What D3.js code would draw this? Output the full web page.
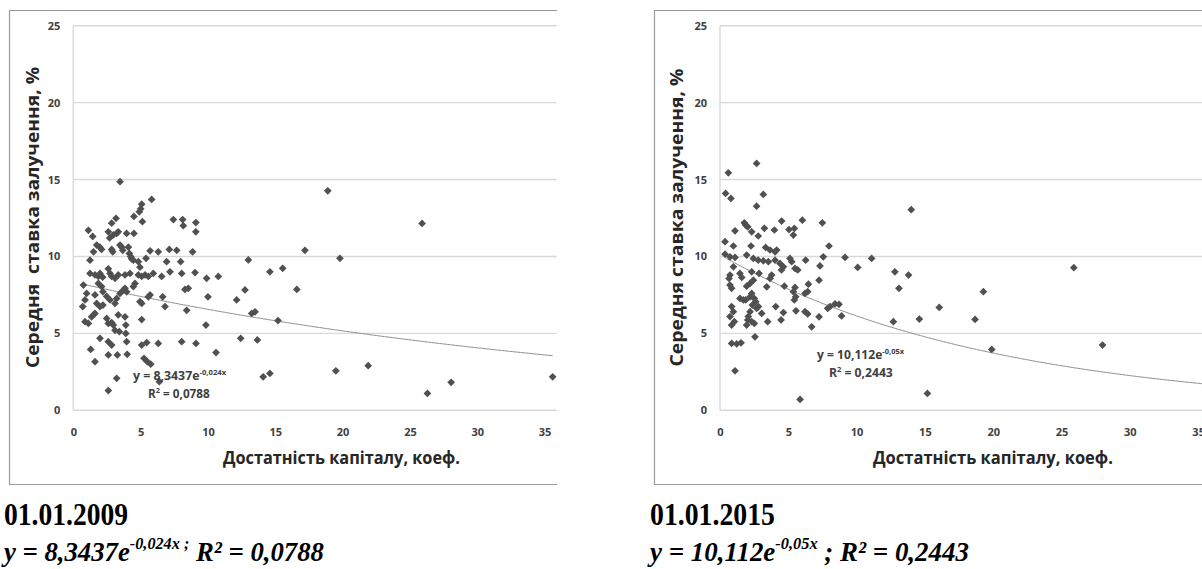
<!DOCTYPE html>
<html>
<head>
<meta charset="utf-8">
<title>Середня ставка залучення та достатність капіталу</title>
<style>
  body { margin: 0; background: #fff; }
  svg text { font-family: "Open Sans", sans-serif; }
</style>
</head>
<body>
<script src="https://cdn.jsdelivr.net/npm/d3@7/dist/d3.min.js"></script>
<script>

    // 01.01.2009 : capital adequacy (x) vs average funding rate, % (y)
    var x2009 = [3.47, 5.82, 5.08, 5.0, 4.9, 4.5, 5.13, 3.17, 2.85, 1.12, 1.44, 2.6, 2.7, 2.97, 3.22, 3.34, 3.96, 4.5,
        7.43, 8.12, 8.17, 9.1, 9.1, 1.74, 1.98, 2.1, 1.5, 1.24, 2.85, 2.93, 3.47, 3.6, 3.67, 4.09, 4.16, 4.26, 4.33,
        4.46, 4.83, 4.95, 5.4, 5.7, 6.31, 7.13, 7.68, 8.86, 6.93, 7.97, 13.0, 14.6, 15.55, 1.24, 1.61, 1.86, 1.98,
        2.18, 2.6, 2.73, 2.85, 3.1, 3.34, 3.84, 4.21, 4.83, 5.08, 5.33, 5.57, 5.94, 6.56, 7.18, 8.05, 9.04, 9.9,
        10.77, 0.75, 0.99, 0.87, 0.7, 1.86, 2.1, 2.2, 1.61, 1.74, 1.98, 2.2, 2.48, 2.73, 3.22, 3.1, 3.47, 3.72, 3.84,
        3.96, 4.46, 4.58, 5.7, 5.57, 5.08, 4.95, 6.64, 6.81, 8.29, 8.54, 8.42, 10.0, 12.13, 12.75, 13.25, 13.5, 15.2,
        0.87, 1.12, 1.36, 1.49, 1.61, 2.48, 2.6, 2.85, 2.97, 3.34, 3.84, 5.08, 3.9, 3.42, 3.1, 9.85, 1.98, 2.6, 2.85,
        1.29, 1.61, 3.9, 3.96, 5.08, 5.45, 6.31, 8.05, 9.11, 10.6, 12.43, 13.67, 2.6, 3.27, 4.0, 5.25, 5.5, 5.75,
        3.22, 6.39, 2.6, 14.1, 14.6, 17.2, 19.8, 16.6, 19.5, 21.9, 26.3, 28.06, 35.6, 18.9, 25.9];
    var y2009 = [14.86, 13.71, 13.4, 13.1, 12.9, 12.6, 12.26, 12.48, 12.16, 11.7, 11.3, 11.6, 11.2, 11.4, 11.5, 11.6, 11.5, 11.5,
        12.4, 12.4, 12.0, 12.2, 11.6, 10.74, 10.6, 10.46, 10.3, 9.76, 10.46, 10.3, 10.74, 10.6, 10.4, 10.6, 10.2, 10.0, 9.85,
        9.76, 9.66, 9.3, 9.88, 10.37, 10.3, 10.46, 10.4, 10.3, 9.66, 9.66, 9.77, 9.0, 9.23, 8.9, 8.8, 8.7, 8.9,
        8.65, 9.2, 8.9, 8.7, 8.58, 8.8, 8.8, 8.9, 8.8, 8.7, 8.8, 8.7, 8.9, 8.7, 9.0, 8.9, 8.95, 8.58,
        8.7, 8.14, 7.6, 7.17, 6.74, 8.25, 8.04, 7.7, 7.5, 6.95, 6.74, 6.84, 7.4, 7.17, 7.27, 6.95, 7.6, 7.82, 7.93,
        7.7, 8.04, 8.25, 7.5, 7.38, 6.95, 7.06, 7.38, 6.74, 7.86, 7.93, 6.5, 7.38, 7.17, 7.82, 6.3, 6.4, 5.83,
        5.76, 5.65, 6.08, 6.2, 6.3, 5.97, 5.65, 5.7, 5.54, 6.2, 6.08, 5.9, 5.54, 5.11, 5.2, 5.54, 4.68, 4.46, 4.24,
        3.96, 3.16, 5.0, 4.46, 4.24, 4.4, 4.35, 4.46, 4.35, 3.75, 4.68, 4.57, 3.6, 3.6, 3.64, 3.38, 3.16, 3.0,
        2.08, 1.86, 1.28, 2.18, 2.4, 10.4, 9.88, 7.86, 2.57, 2.9, 1.1, 1.82, 2.18, 14.27, 12.15];

    // 01.01.2015
    var x2015 = [0.61, 2.68, 0.41, 0.8, 3.17, 2.68, 14.0, 1.78, 1.88, 2.03, 1.1, 2.32, 2.8, 3.25, 3.98, 4.51, 5.05, 5.44,
        5.37, 6.03, 7.49, 0.37, 0.98, 2.27, 3.34, 3.66, 4.03, 4.15, 7.98, 0.37, 0.73, 1.1, 1.95, 2.44, 2.8, 3.17, 3.54,
        4.03, 4.39, 4.64, 4.5, 5.12, 5.25, 5.49, 5.69, 6.27, 7.56, 7.32, 9.15, 11.1, 10.08, 12.8, 13.8, 13.1, 0.98,
        0.73, 0.66, 1.46, 1.59, 2.32, 2.86, 3.78, 3.66, 0.73, 0.85, 1.95, 2.2, 2.44, 3.42, 4.71, 5.49, 5.37, 5.54,
        5.44, 6.47, 6.42, 7.25, 6.22, 1.46, 1.71, 1.88, 2.2, 2.32, 2.51, 2.61, 0.85, 0.98, 0.73, 1.05, 0.85, 2.37,
        2.68, 2.81, 2.2, 2.07, 2.03, 1.95, 2.32, 4.08, 3.05, 3.49, 2.51, 4.64, 4.47, 5.56, 6.22, 6.42, 7.25, 6.71,
        7.88, 8.05, 8.42, 8.71, 8.9, 12.69, 2.56, 0.85, 1.22, 1.54, 1.1, 5.86, 14.59, 16.05, 18.67, 19.28, 19.89,
        15.18, 25.9, 28.0];
    var y2015 = [15.44, 16.05, 14.1, 13.77, 14.03, 13.27, 13.04, 12.19, 12.04, 11.93, 11.67, 11.6, 11.33, 11.83, 11.72, 12.3, 11.75, 11.82,
        11.39, 12.36, 12.19, 10.96, 10.68, 10.68, 10.59, 10.42, 10.3, 10.42, 10.68, 10.15, 9.98, 9.94, 10.09, 9.87, 9.76, 9.72, 9.66,
        9.76, 9.55, 9.33, 9.12, 9.87, 9.66, 9.22, 9.12, 9.76, 9.98, 9.38, 9.94, 9.87, 9.29, 9.0, 8.79, 7.93, 9.33,
        8.79, 8.57, 8.9, 8.64, 9.0, 8.9, 8.79, 8.57, 8.14, 7.93, 8.07, 8.25, 8.46, 8.03, 8.07, 7.99, 7.71, 7.38,
        7.17, 8.2, 7.71, 8.46, 7.6, 7.27, 7.17, 7.17, 7.38, 7.6, 7.27, 7.06, 6.74, 6.41, 6.09, 5.76, 5.54, 6.84,
        6.63, 6.74, 6.41, 6.09, 5.87, 5.54, 5.76, 6.74, 6.3, 5.76, 5.65, 6.35, 5.87, 6.47, 6.41, 6.26, 6.08, 5.43,
        6.63, 6.74, 6.91, 6.89, 6.13, 5.76, 4.78, 4.35, 4.31, 4.39, 2.57, 0.71, 5.93, 6.69, 5.91, 7.71, 3.96,
        1.1, 9.27, 4.24];

    var yTicks = [0, 5, 10, 15, 20, 25];
    var xTicks = [0, 5, 10, 15, 20, 25, 30, 35];

    // exponential trend y = a * e^(b x)
    var trendA = [8.3437, 10.112];
    var trendB = [-0.024, -0.05];
    var trendEq = ["8,3437", "10,112"];
    var trendExp = ["-0,024x", "-0,05x"];
    var trendR2 = ["0,0788", "0,2443"];
    var dates = ["01.01.2009", "01.01.2015"];
    var yTitles = ["Середня  ставка залучення, %", "Середня ставка залучення, %"];
    var xTitle = "Достатність капіталу, коеф.";

    var svg = d3.select('body').append('svg')
        .attr('width', 1202)
        .attr('height', 569);

    var panels = [
        {xs: x2009, ys: y2009, xMax: 35.9, left: 73.3, right: 556.7, top: 25.7, bottom: 410.3,
         frame: {left: 9.5, top: 10.5, right: 557, bottom: 484.5, bottomEnd: 557},
         yTitleX: 39, yTitleY: 217.5, yTitleLen: 301,
         xTitleX: 223, xTitleLen: 237, xTitleY: 464,
         eqX: 133, eqW: 94, eqY: 380, r2X: 148, r2W: 62, r2Y: 397.7,
         trendEnd: 35.6,
         capX: 4, dateW: 124, dateY: 525, eqCapW: 323, eqCapY: 561, supSemicolon: true},
        {xs: x2015, ys: y2015, xMax: 36, left: 720, right: 1211.8, top: 25.7, bottom: 410.3,
         frame: {left: 654.5, top: 10.5, right: 1202, bottom: 484.5, bottomEnd: 1202},
         yTitleX: 683, yTitleY: 217.5, yTitleLen: 298,
         xTitleX: 873, xTitleLen: 240, xTitleY: 464,
         eqX: 817, eqW: 88, eqY: 358.5, r2X: 829, r2W: 64, r2Y: 376.7,
         trendEnd: 36,
         capX: 650, dateW: 125, dateY: 525, eqCapW: 322, eqCapY: 561, supSemicolon: false}
    ];

    // scale a text horizontally so that it fills a given width
    function fitText(parent, left, baseline, width, build) {
        var g = parent.append('g');
        var t = g.append('text');
        build(t);
        var w = t.node().getBBox().width;
        g.attr('transform', 'translate(' + left + ',' + baseline + ') scale(' + (width / w) + ',1)');
        return t;
    }

    panels.forEach(function(p, i) {
        var g = svg.append('g');

        var x = d3.scaleLinear()
            .domain([0, p.xMax])
            .range([p.left, p.right]);

        var y = d3.scaleLinear()
            .domain([0, 25])
            .range([p.bottom, p.top]);

        // chart frame (cropped on the right)
        var f = p.frame;
        g.append('path')
            .attr('d', 'M' + f.right + ',' + f.top + 'H' + f.left + 'V' + f.bottom + 'H' + f.bottomEnd)
            .attr('fill', 'none')
            .attr('stroke', '#9a9a9a')
            .attr('stroke-width', 1.2);

        // gridlines
        g.selectAll('.grid')
            .data(yTicks)
            .enter().append('line')
            .attr('class', 'grid')
            .attr('x1', p.left)
            .attr('x2', p.right)
            .attr('y1', function(d) { return y(d); })
            .attr('y2', function(d) { return y(d); })
            .attr('stroke', '#d9d9d9')
            .attr('stroke-width', 1.4);

        g.append('line')
            .attr('x1', p.left).attr('x2', p.left)
            .attr('y1', y(25)).attr('y2', y(0))
            .attr('stroke', '#d9d9d9')
            .attr('stroke-width', 1.4);

        var yAxis = g.append('g')
            .attr('transform', 'translate(' + p.left + ',0)')
            .call(d3.axisLeft(y).tickValues(yTicks).tickSize(0).tickPadding(13));
        var xAxis = g.append('g')
            .attr('transform', 'translate(0,' + p.bottom + ')')
            .call(d3.axisBottom(x).tickValues(xTicks).tickSize(0).tickPadding(18));
        [yAxis, xAxis].forEach(function(a) {
            a.select('.domain').remove();
            a.selectAll('text')
                .attr('fill', '#404040')
                .style('font-size', '11px')
                .style('font-weight', 'bold')
                .style('font-family', '"Open Sans", sans-serif');
        });

        // trend line
        var tx = d3.range(d3.min(p.xs), p.trendEnd, 0.1).concat([p.trendEnd]);
        var line = d3.line()
            .x(function(d) { return x(d); })
            .y(function(d) { return y(trendA[i] * Math.exp(trendB[i] * d)); });
        g.append('path')
            .datum(tx)
            .attr('d', line)
            .attr('fill', 'none')
            .attr('stroke', '#8c8c8c')
            .attr('stroke-width', 1);

        // points
        var diamond = d3.symbol().type(d3.symbolSquare).size(30);
        g.selectAll('.pt')
            .data(p.xs)
            .enter().append('path')
            .attr('class', 'pt')
            .attr('d', diamond)
            .attr('transform', function(d, j) {
                return 'translate(' + x(d) + ',' + y(p.ys[j]) + ') rotate(45)';
            })
            .attr('fill', '#505050');

        // trend equation inside the plot
        fitText(g, p.eqX, p.eqY, p.eqW, function(t) {
            t.attr('fill', '#404040').style('font-size', '12px').style('font-weight', 'bold');
            t.append('tspan').text('y = ' + trendEq[i] + 'e');
            t.append('tspan').attr('dy', -5).style('font-size', '7.5px').text(trendExp[i]);
        });
        fitText(g, p.r2X, p.r2Y, p.r2W, function(t) {
            t.attr('fill', '#404040').style('font-size', '12px').style('font-weight', 'bold');
            t.append('tspan').text('R');
            t.append('tspan').attr('dy', -5).style('font-size', '7.5px').text('2');
            t.append('tspan').attr('dy', 5).text(' = ' + trendR2[i]);
        });

        // axis titles
        g.append('text')
            .attr('transform', 'translate(' + p.yTitleX + ',' + p.yTitleY + ') rotate(-90)')
            .attr('text-anchor', 'middle')
            .attr('textLength', p.yTitleLen)
            .attr('lengthAdjust', 'spacingAndGlyphs')
            .style('white-space', 'pre')
            .style('font-size', '17px')
            .style('font-weight', 'bold')
            .attr('fill', '#262626')
            .text(yTitles[i]);

        g.append('text')
            .attr('x', p.xTitleX)
            .attr('y', p.xTitleY)
            .attr('textLength', p.xTitleLen)
            .attr('lengthAdjust', 'spacingAndGlyphs')
            .style('font-size', '17px')
            .style('font-weight', 'bold')
            .attr('fill', '#262626')
            .text(xTitle);

        // caption under the chart
        fitText(svg, p.capX, p.dateY, p.dateW, function(t) {
            t.style('font-family', '"Liberation Serif", "Times New Roman", serif')
                .style('font-size', '32px')
                .style('font-weight', 'bold')
                .attr('fill', '#000')
                .text(dates[i]);
        });
        fitText(svg, p.capX, p.eqCapY, p.eqCapW, function(t) {
            t.style('font-family', '"Liberation Serif", "Times New Roman", serif')
                .style('font-size', '28px')
                .style('font-weight', 'bold')
                .style('font-style', 'italic')
                .style('white-space', 'pre')
                .attr('fill', '#000');
            t.append('tspan').text('y = ' + trendEq[i] + 'e');
            t.append('tspan').attr('dy', -12).style('font-size', '17px')
                .text(trendExp[i] + (p.supSemicolon ? ' ;' : ''));
            t.append('tspan').attr('dy', 12)
                .text((p.supSemicolon ? ' ' : ' ; ') + 'R² = ' + trendR2[i]);
        });
    });

</script>
</body>
</html>
